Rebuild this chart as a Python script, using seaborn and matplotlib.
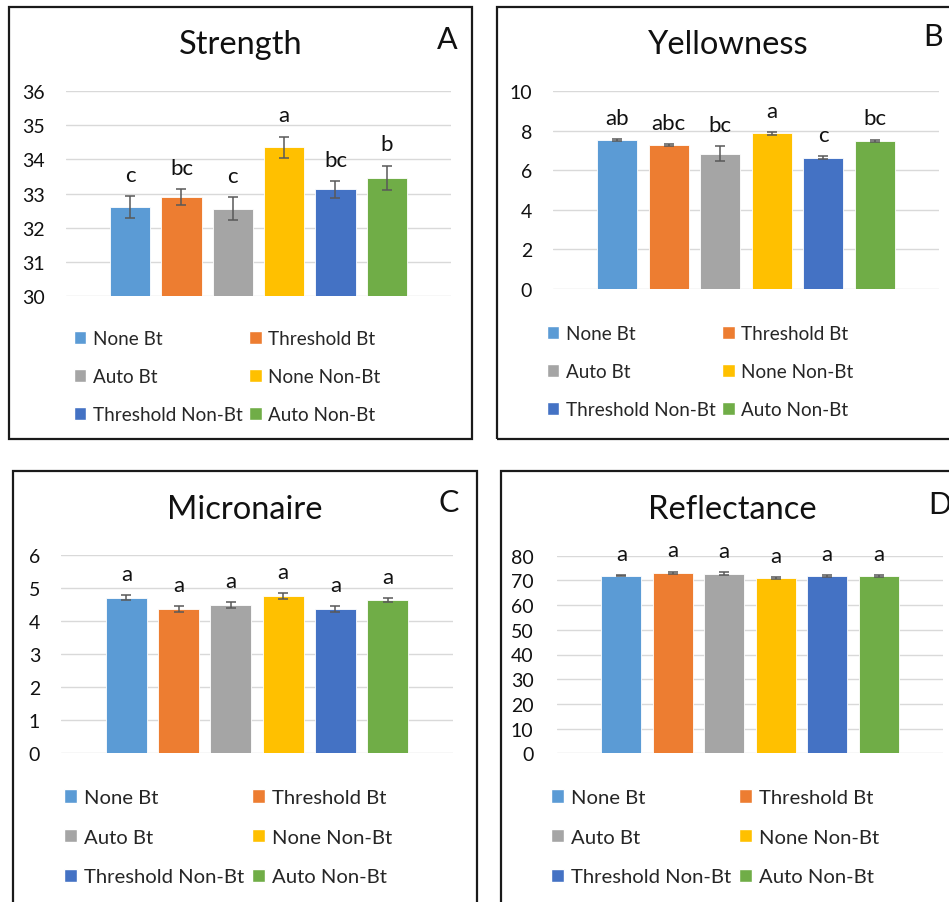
import matplotlib
matplotlib.use("Agg")
import matplotlib.pyplot as plt
from matplotlib.patches import Patch, Rectangle
import seaborn as sns

# ── Data ──────────────────────────────────────────────────────────────────────
treatments = ["None Bt", "Threshold Bt", "Auto Bt",
              "None Non-Bt", "Threshold Non-Bt", "Auto Non-Bt"]
colors = ["#5B9BD5", "#ED7D31", "#A5A5A5", "#FFC000", "#4472C4", "#70AD47"]

strength = [32.60, 32.89, 32.55, 34.36, 33.12, 33.46]
strength_err = [0.32, 0.24, 0.34, 0.31, 0.24, 0.36]
strength_letters = ["c", "bc", "c", "a", "bc", "b"]

yellowness = [7.54, 7.27, 6.85, 7.88, 6.64, 7.50]
yellowness_err = [0.06, 0.05, 0.39, 0.07, 0.08, 0.06]
yellowness_letters = ["ab", "abc", "bc", "a", "c", "bc"]

micronaire = [4.72, 4.37, 4.49, 4.77, 4.37, 4.64]
micronaire_err = [0.065, 0.08, 0.08, 0.08, 0.08, 0.07]
micronaire_letters = ["a", "a", "a", "a", "a", "a"]

reflectance = [71.9, 73.1, 72.7, 70.9, 71.9, 71.9]
reflectance_err = [0.3, 0.5, 0.5, 0.4, 0.4, 0.4]
reflectance_letters = ["a", "a", "a", "a", "a", "a"]

# ── Setup ─────────────────────────────────────────────────────────────────────
sns.set_theme(style="white")
plt.rcParams["font.family"] = ["Lato", "DejaVu Sans"]

W, H = 949, 903
fig = plt.figure(figsize=(W / 100, H / 100), dpi=100)


def fx(px):
    return px / W


def fy(py):
    return 1 - py / H


def box(x0, y0, x1, y1):
    fig.add_artist(Rectangle((fx(x0), fy(y1)), fx(x1 - x0), (y1 - y0) / H,
                             transform=fig.transFigure, fill=False,
                             ec="#1a1a1a", lw=1.6))


def panel(rect, values, errs, letters, ylim, yticks, title, title_xy, tag, tag_xy,
          legend_xy, legend_fs, tick_pad=15):
    left, top, right, bottom = rect
    ax = fig.add_axes([fx(left), fy(bottom), fx(right - left), (bottom - top) / H])
    sns.barplot(x=treatments, y=values, hue=treatments, palette=colors,
                width=0.78, errorbar=None, legend=False, ax=ax, saturation=1,
                edgecolor="white", linewidth=0.6)
    ax.errorbar(range(len(values)), values, yerr=errs, fmt="none",
                ecolor="#595959", elinewidth=1.1, capsize=3.6, capthick=1.1)
    for i, (v, e, lab) in enumerate(zip(values, errs, letters)):
        ax.annotate(lab, (i, v + e), xytext=(0, 8), textcoords="offset points",
                    ha="center", va="bottom", fontsize=16, color="#111111")
    ax.set_xlim(-1.25, 6.25)
    ax.set_ylim(*ylim)
    ax.set_yticks(yticks)
    ax.set_yticklabels([str(t) for t in yticks])
    ax.set_xticks([])
    ax.set_xlabel("")
    ax.set_ylabel("")
    ax.yaxis.grid(True, color="#D9D9D9", lw=1)
    ax.set_axisbelow(True)
    for s in ax.spines.values():
        s.set_visible(False)
    ax.tick_params(axis="y", length=0, pad=tick_pad, labelsize=14, labelcolor="#111111")

    fig.text(fx(title_xy[0]), fy(title_xy[1]), title, ha="center", va="center",
             fontsize=23.5, color="#111111")
    fig.text(fx(tag_xy[0]), fy(tag_xy[1]), tag, ha="center", va="center",
             fontsize=22, color="#111111")

    handles = [Patch(facecolor=c, label=t) for c, t in zip(colors, treatments)]
    order = [0, 2, 4, 1, 3, 5]
    ax.legend([handles[i] for i in order], [treatments[i] for i in order],
              ncol=2, loc="upper left", frameon=False,
              bbox_to_anchor=(fx(legend_xy[0]), fy(legend_xy[1])),
              bbox_transform=fig.transFigure, fontsize=legend_fs,
              borderpad=0, borderaxespad=0, handlelength=0.65, handleheight=0.65,
              handletextpad=0.35, columnspacing=0.35, labelspacing=1.12)
    return ax


# ── Panel frames ──────────────────────────────────────────────────────────────
box(9, 8, 472, 440)
box(497, 8, 965, 440)
box(13, 472, 477, 915)
box(501, 472, 965, 915)

# ── Panels ────────────────────────────────────────────────────────────────────
panel((66, 92.3, 451, 296.7), strength, strength_err, strength_letters,
      (30, 36), [30, 31, 32, 33, 34, 35, 36], "Strength", (241, 45), "A", (447, 40),
      (74, 331), 13.6)
panel((553, 92.3, 939, 290), yellowness, yellowness_err, yellowness_letters,
      (0, 10), [0, 2, 4, 6, 8, 10], "Yellowness", (728, 45), "B", (933, 37),
      (547, 326), 13.6)
panel((61, 556.3, 453, 754.3), micronaire, micronaire_err, micronaire_letters,
      (0, 6), [0, 1, 2, 3, 4, 5, 6], "Micronaire", (245, 510), "C", (449, 503),
      (64, 790), 14.6)
panel((557, 556.7, 943, 754.3), reflectance, reflectance_err, reflectance_letters,
      (0, 80), [0, 10, 20, 30, 40, 50, 60, 70, 80], "Reflectance", (732, 510), "D",
      (940, 505), (551, 790), 14.6, tick_pad=17)

fig.savefig("out.png", dpi=100, facecolor="white")
